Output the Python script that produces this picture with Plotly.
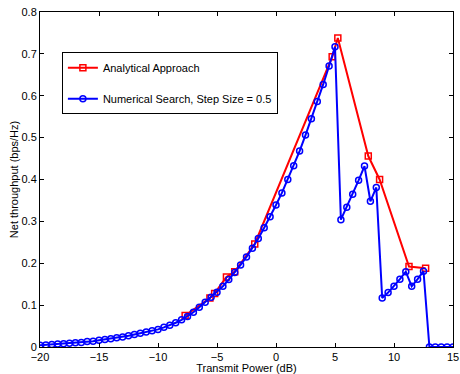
import plotly.graph_objects as go

# Numerical search (step 0.5 dB)
num_x = [-20 + 0.5 * i for i in range(71)]
num_y = [0.004, 0.005, 0.006, 0.007, 0.008, 0.009, 0.010, 0.011, 0.013, 0.014,
         0.016, 0.018, 0.020, 0.022, 0.024, 0.027, 0.030, 0.033, 0.036, 0.039,
         0.042, 0.047, 0.052, 0.058, 0.065, 0.073, 0.083, 0.095, 0.107, 0.119,
         0.131, 0.145, 0.161, 0.178, 0.196, 0.215, 0.236, 0.259, 0.285, 0.311,
         0.339, 0.368, 0.400, 0.433, 0.468, 0.506, 0.545, 0.586, 0.627, 0.671,
         0.717, 0.304, 0.334, 0.365, 0.398, 0.432, 0.348, 0.381, 0.117, 0.130,
         0.145, 0.162, 0.180, 0.145, 0.162, 0.181, 0.0, 0.0, 0.0, 0.0, 0.0]

# Analytical approach
ana_x = [-7.7, -5.6, -5.2, -4.2, -3.5, -1.8, 4.76, 5.24, 7.82, 8.78, 11.27, 12.68]
ana_y = [0.075, 0.117, 0.128, 0.167, 0.180, 0.246, 0.693, 0.738, 0.456, 0.400, 0.192, 0.188]

x_ticks = [-20, -15, -10, -5, 0, 5, 10, 15]
x_labels = ["\u221220", "\u221215", "\u221210", "\u22125", "0", "5", "10", "15"]
y_ticks = [0, 0.1, 0.2, 0.3, 0.4, 0.5, 0.6, 0.7, 0.8]
y_labels = ["0", "0.1", "0.2", "0.3", "0.4", "0.5", "0.6", "0.7", "0.8"]

FONT = "Liberation Sans, Arial, Helvetica, sans-serif"

fig = go.Figure()
fig.add_trace(go.Scatter(
    x=ana_x, y=ana_y, mode="lines+markers", name="Analytical Approach",
    line=dict(color="#FF0000", width=2),
    marker=dict(symbol="square-open", size=6, color="#FF0000", line=dict(width=1.5, color="#FF0000")),
    legendgroup="a",
))
fig.add_trace(go.Scatter(
    x=num_x, y=num_y, mode="lines+markers", name="Numerical Search, Step Size = 0.5",
    line=dict(color="#0000FF", width=2),
    marker=dict(symbol="circle-open", size=6, color="#0000FF", line=dict(width=1.5, color="#0000FF")),
    legendgroup="b",
))

axis_common = dict(
    showgrid=False, zeroline=False, showline=True, linecolor="black", linewidth=1,
    mirror="allticks", ticks="inside", ticklen=4, tickcolor="black", tickwidth=1,
    tickfont=dict(family=FONT, size=11, color="black"), automargin=False,
    ticklabeloverflow="allow",
)

fig.update_layout(
    width=460, height=374,
    margin=dict(l=40, r=7, t=12, b=27),
    paper_bgcolor="white", plot_bgcolor="white",
    font=dict(family=FONT, size=11, color="black"),
    showlegend=True,
    legend=dict(
        x=0.053, y=0.88, xanchor="left", yanchor="top",
        bordercolor="black", borderwidth=1, bgcolor="white",
        font=dict(family=FONT, size=11, color="black"),
        traceorder="grouped", tracegroupgap=12,
    ),
    xaxis=dict(range=[-20, 15], tickvals=x_ticks, ticktext=x_labels, ticklabelstandoff=0,
               title=dict(text="Transmit Power (dB)", font=dict(family=FONT, size=11), standoff=0),
               **axis_common),
    yaxis=dict(range=[0, 0.8], tickvals=y_ticks, ticktext=y_labels,
               title=dict(text="Net throughput (bps/Hz)", font=dict(family=FONT, size=11), standoff=0),
               **axis_common),
)

# remove the default page margin so the 460x374 figure fills the window exactly
fig.write_html(
    "out.html",
    config={"displayModeBar": False},
    post_script="document.body.style.margin='0';document.body.style.overflow='hidden';",
)
